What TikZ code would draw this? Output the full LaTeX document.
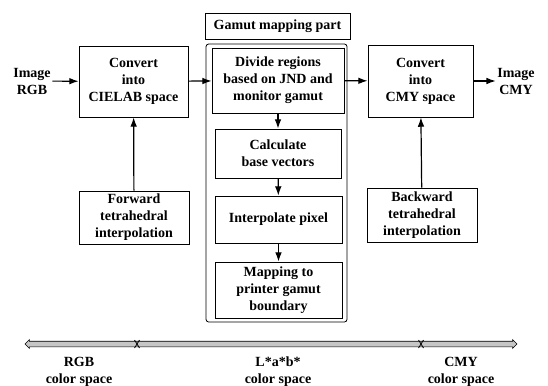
\documentclass[tikz,border=0pt]{standalone}
\newcommand\pix{0.75pt}
\usepackage{fontspec}
\setmainfont{Liberation Serif}
\usepackage{tikz}
\usetikzlibrary{positioning,arrows.meta,shapes.arrows}
\tikzset{box/.style={rectangle,draw=black,line width=0.6pt,align=center,inner sep=0pt,font=\bfseries\fontsize{10.5}{12.75}\selectfont},
         txt/.style={align=center,inner sep=1pt,font=\bfseries\fontsize{10.5}{12.75}\selectfont},
         flow/.style={-{Latex[length=7pt,width=5pt]},line width=0.9pt}}

\begin{document}
\begin{tikzpicture}[x=\pix,y=-\pix]
                \useasboundingbox (0,0) rectangle (548,385);
                % gamut mapping part
                \node[box] (gamut) at (277.5,26) [minimum width=145*\pix, minimum height=26*\pix] {Gamut mapping part};
                \node[box, rounded corners=2pt] (part) at (276.5,183) [minimum width=141*\pix, minimum height=278*\pix] {};
                \node[box] (divide) at (278,80.5) [minimum width=132*\pix, minimum height=65*\pix] {Divide regions\\based on JND and\\monitor gamut};
                \node[box] (calc) at (278,153.5) [minimum width=126*\pix, minimum height=49*\pix] {Calculate\\base vectors};
                \node[box] (interp) at (278.5,219.5) [minimum width=127*\pix, minimum height=47*\pix] {Interpolate pixel};
                \node[box] (mapping) at (278.5,290) [minimum width=127*\pix, minimum height=56*\pix] {Mapping to\\printer gamut\\boundary};

                % conversions
                \node[box] (cielab) at (133.5,81.5) [minimum width=109*\pix, minimum height=71*\pix] {Convert\\into\\CIELAB space};
                \node[box] (cmy) at (420.5,81) [minimum width=105*\pix, minimum height=72*\pix] {Convert\\into\\CMY space};
                \node[box] (forward) at (134,217.5) [minimum width=110*\pix, minimum height=53*\pix] {Forward\\tetrahedral\\interpolation};
                \node[box] (backward) at (422,215) [minimum width=110*\pix, minimum height=54*\pix] {Backward\\tetrahedral\\interpolation};

                \node[txt] (rgbin) at (32,81) {Image\\RGB};
                \node[txt] (cmyout) at (516,81) {Image\\CMY};

                \draw[flow] (rgbin) -- (cielab);
                \draw[flow] (cielab) -- (divide);
                \draw[flow] (divide) -- (cmy);
                \draw[flow] (cmy) -- (cmyout);
                \draw[flow] (forward) -- (cielab);
                \draw[flow] (backward) -- (cmy);
                \draw[flow] (divide) -- (calc);
                \draw[flow] (calc) -- (interp);
                \draw[flow] (interp) -- (mapping);

                % color space scale
                \node[double arrow, draw=black, line width=0.5pt, fill=gray!45, inner xsep=0pt, inner ysep=2.5*\pix,
                      double arrow head extend=1.5*\pix, minimum height=492*\pix] (scale) at (271,344) {};
                \coordinate (cutrgb) at (137,344);
                \coordinate (cutcmy) at (421,344);
                \foreach \c in {cutrgb,cutcmy}{\draw[line width=0.6pt] ([shift={(-2.5,-4)}]\c) -- ([shift={(2.5,4)}]\c) ([shift={(-2.5,4)}]\c) -- ([shift={(2.5,-4)}]\c);}
                \node[txt] (rgbspace) at (79,372) {RGB\\color space};
                \node[txt] (labspace) at (278,372) {L*a*b*\\color space};
                \node[txt] (cmyspace) at (461,372) {CMY\\color space};
            \end{tikzpicture}
\end{document}
